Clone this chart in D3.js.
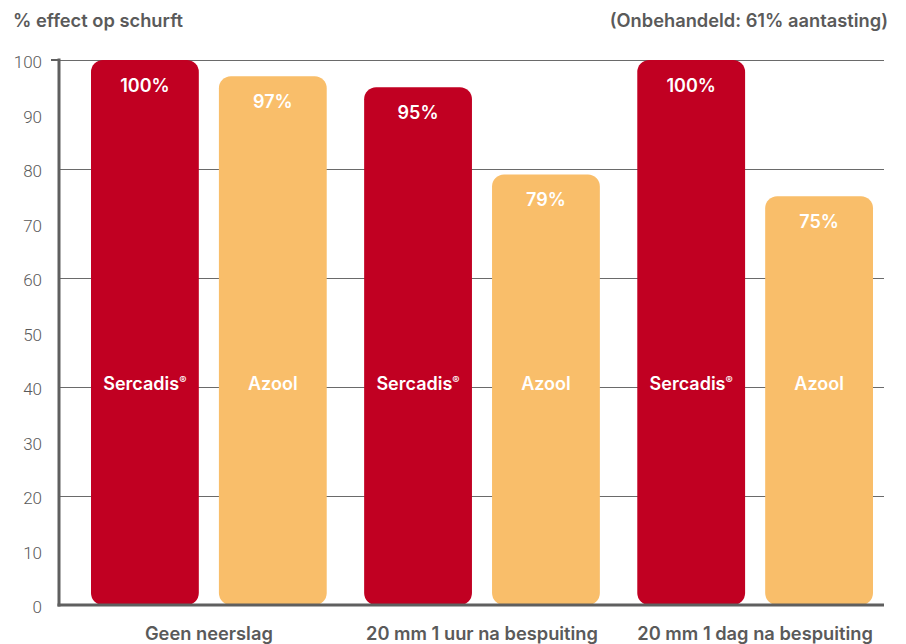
<!DOCTYPE html>
<html>
<head>
<meta charset="utf-8">
<script src="https://cdn.jsdelivr.net/npm/d3@7"></script>
<style>
  html, body { margin: 0; padding: 0; background: #fff; }
  svg { display: block; }
</style>
</head>
<body>
<svg id="chart" width="906" height="644"></svg>
<script>
// ---- data ----
const categories = ["Geen neerslag", "20 mm 1 uur na bespuiting", "20 mm 1 dag na bespuiting"];
const seriesNames = ["Sercadis", "Azool"];
const sercadisValues = [100, 95, 100];
const azoolValues = [97, 79, 75];
const yTickValues = [0, 10, 20, 30, 40, 50, 60, 70, 80, 90, 100];
const gridValues = [20, 40, 60, 80, 100];
const titleText = "% effect op schurft";
const noteText = "(Onbehandeld: 61% aantasting)";

const colors = { Sercadis: "#C10022", Azool: "#F9BE6A" };

const svg = d3.select("#chart");
const plotLeft = 59, plotRight = 884, plotTop = 60, plotBottom = 605;

const y = d3.scaleLinear().domain([0, 100]).range([plotBottom, plotTop]);
const x0 = d3.scaleBand().domain(categories).range([91, 873]).paddingInner(0.137).paddingOuter(0);
const x1 = d3.scaleBand().domain(seriesNames).range([0, x0.bandwidth()]).paddingInner(0.157).paddingOuter(0);

const textGray = "#5a5a5a";
const mainFont = "Inter, Liberation Sans, Arial, sans-serif";
const mainWeight = 600;

// title and note
svg.append("text").attr("x", 13).attr("y", 27)
  .attr("font-family", mainFont).attr("font-weight", mainWeight)
  .attr("font-size", 18.3).attr("fill", textGray).text(titleText);
svg.append("text").attr("x", 888).attr("y", 27).attr("text-anchor", "end")
  .attr("font-family", mainFont).attr("font-weight", mainWeight)
  .attr("font-size", 18.3).attr("fill", textGray).text(noteText);

// gridlines
svg.append("g").selectAll("line").data(gridValues).join("line")
  .attr("x1", plotLeft).attr("x2", plotRight)
  .attr("y1", d => Math.round(y(d)) + 0.5).attr("y2", d => Math.round(y(d)) + 0.5)
  .attr("stroke", "#6a6a6a").attr("stroke-width", 1);

// y axis labels
const yAxis = d3.axisLeft(y).tickValues(yTickValues).tickSize(0).tickPadding(17).tickFormat(d3.format("d"));
const gy = svg.append("g").attr("transform", `translate(${plotLeft},0)`).call(yAxis);
gy.select(".domain").remove();
gy.selectAll("text")
  .attr("font-family", "Roboto, sans-serif").attr("font-weight", 300)
  .attr("font-size", 17).attr("fill", "#5a5a5a").attr("dy", "0.45em");

// bars
const rows = categories.map((c, i) => ({ category: c, values: [
  { series: "Sercadis", value: sercadisValues[i] },
  { series: "Azool", value: azoolValues[i] } ] }));

const groups = svg.append("g").selectAll("g").data(rows).join("g")
  .attr("transform", d => `translate(${x0(d.category)},0)`);

groups.selectAll("rect").data(d => d.values).join("rect")
  .attr("x", d => x1(d.series))
  .attr("y", d => y(d.value))
  .attr("width", x1.bandwidth())
  .attr("height", d => y(0) - y(d.value))
  .attr("rx", 12).attr("ry", 12)
  .attr("fill", d => colors[d.series]);

// value labels
groups.selectAll("text.val").data(d => d.values).join("text")
  .attr("class", "val")
  .attr("x", d => x1(d.series) + x1.bandwidth() / 2)
  .attr("y", d => y(d.value) + 32)
  .attr("text-anchor", "middle")
  .attr("font-family", mainFont).attr("font-weight", mainWeight)
  .attr("font-size", 18).attr("fill", "#fff")
  .text(d => d.value + "%");

// series name labels
const nameLabels = groups.selectAll("text.name").data(d => d.values).join("text")
  .attr("class", "name")
  .attr("x", d => x1(d.series) + x1.bandwidth() / 2)
  .attr("y", 390)
  .attr("text-anchor", "middle")
  .attr("font-family", mainFont).attr("font-weight", mainWeight)
  .attr("font-size", 18).attr("fill", "#fff");
nameLabels.append("tspan").text(d => d.series);
nameLabels.filter(d => d.series === "Sercadis").append("tspan")
  .attr("font-size", 11).attr("dy", -6).text("®");

// axis lines
svg.append("line").attr("x1", plotLeft).attr("x2", plotLeft).attr("y1", plotTop - 1.5).attr("y2", plotBottom + 1.5)
  .attr("stroke", "#5f5f5f").attr("stroke-width", 3);
svg.append("line").attr("x1", 51).attr("x2", plotLeft).attr("y1", plotTop).attr("y2", plotTop)
  .attr("stroke", "#5f5f5f").attr("stroke-width", 2);
svg.append("line").attr("x1", plotLeft - 1.5).attr("x2", plotRight).attr("y1", plotBottom).attr("y2", plotBottom)
  .attr("stroke", "#5f5f5f").attr("stroke-width", 3);

// category labels
svg.append("g").selectAll("text").data(categories).join("text")
  .attr("x", d => x0(d) + x0.bandwidth() / 2)
  .attr("y", 640)
  .attr("text-anchor", "middle")
  .attr("font-family", mainFont).attr("font-weight", mainWeight)
  .attr("font-size", 18.3).attr("fill", textGray)
  .text(d => d);
</script>
</body>
</html>
